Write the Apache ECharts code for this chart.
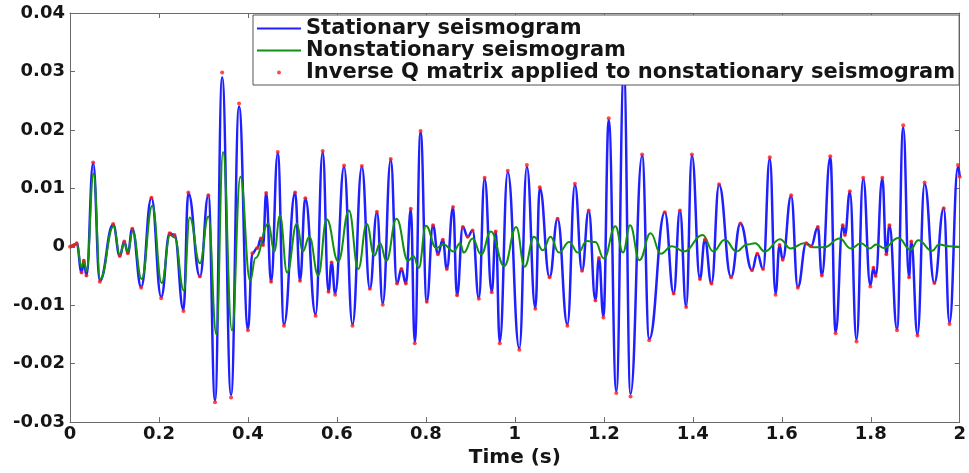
<!DOCTYPE html>
<html><head><meta charset="utf-8">
<script src="https://cdn.jsdelivr.net/npm/echarts@6/dist/echarts.min.js"></script>
<style>html,body{margin:0;padding:0;background:#fff}#c{width:969px;height:473px}</style>
</head><body><div id="c"></div>
<script>
// Stationary seismogram: [time (s), amplitude]
const stationary = [
[0,0],[0.008,0.0002],[0.015,0.0006],[0.026,-0.0044],[0.031,-0.0024],[0.037,-0.0049],
[0.052,0.0143],[0.067,-0.0058],[0.097,0.0038],[0.112,-0.0016],[0.122,0.0009],[0.130,-0.0011],
[0.140,0.0031],[0.160,-0.0069],[0.183,0.0084],[0.205,-0.0086],[0.224,0.0023],[0.235,0.0020],
[0.255,-0.0108],[0.266,0.0092],[0.292,-0.0051],[0.311,0.0088],[0.326,-0.0263],[0.342,0.0290],
[0.362,-0.0254],[0.380,0.0240],[0.400,-0.0141],[0.410,-0.0011],[0.421,-0.0002],[0.429,0.0014],
[0.434,0.0003],[0.441,0.0092],[0.452,-0.0060],[0.467,0.0160],[0.481,-0.0133],[0.506,0.0093],
[0.517,-0.0058],[0.529,0.0083],[0.552,-0.0116],[0.568,0.0162],[0.581,-0.0077],[0.588,-0.0027],
[0.596,-0.0080],[0.616,0.0137],[0.635,-0.0133],[0.656,0.0137],[0.674,-0.0072],[0.690,0.0059],
[0.703,-0.0097],[0.721,0.0149],[0.735,-0.0063],[0.745,-0.0038],[0.755,-0.0063],[0.766,0.0064],
[0.775,-0.0163],[0.788,0.0196],[0.802,-0.0094],[0.816,0.0037],[0.827,-0.0013],[0.838,0.0012],
[0.847,-0.0038],[0.861,0.0067],[0.870,-0.0083],[0.883,0.0034],[0.894,0.0017],[0.905,0.0028],
[0.919,-0.0088],[0.932,0.0117],[0.948,-0.0077],[0.957,0.0026],[0.966,-0.0163],[0.984,0.0128],
[1.010,-0.0174],[1.027,0.0137],[1.046,-0.0105],[1.056,0.0101],[1.078,-0.0052],[1.096,0.0048],
[1.118,-0.0133],[1.135,0.0106],[1.151,-0.0041],[1.166,0.0062],[1.181,-0.0091],[1.189,-0.0019],
[1.199,-0.0119],[1.211,0.0217],[1.228,-0.0247],[1.245,0.0300],[1.260,-0.0252],[1.286,0.0156],
[1.302,-0.0158],[1.337,0.0059],[1.357,-0.0080],[1.371,0.0062],[1.385,-0.0102],[1.398,0.0156],
[1.416,-0.0055],[1.427,0.0012],[1.442,-0.0063],[1.459,0.0106],[1.486,-0.0052],[1.507,0.0040],
[1.533,-0.0040],[1.545,-0.0012],[1.558,-0.0038],[1.573,0.0151],[1.586,-0.0080],[1.595,0.0003],
[1.602,-0.0022],[1.621,0.0087],[1.636,-0.0069],[1.655,0.0006],[1.666,0.0001],[1.681,0.0034],
[1.690,-0.0049],[1.709,0.0153],[1.721,-0.0146],[1.737,0.0037],[1.742,0.0020],[1.753,0.0094],
[1.768,-0.0159],[1.783,0.0117],[1.799,-0.0066],[1.806,-0.0036],[1.811,-0.0050],[1.826,0.0117],
[1.835,-0.0013],[1.842,0.0037],[1.859,-0.0141],[1.873,0.0204],[1.886,-0.0052],[1.891,0.0009],
[1.905,-0.0150],[1.921,0.0108],[1.943,-0.0062],[1.964,0.0066],[1.977,-0.0130],[1.996,0.0137],
[2.000,0.0120]
];
// Nonstationary seismogram
const nonstationary = [
[0,0],[0.015,0.0005],[0.026,-0.0035],[0.031,-0.0022],[0.037,-0.0042],[0.053,0.0125],
[0.068,-0.0055],[0.098,0.0035],[0.112,-0.0014],[0.122,0.0007],[0.130,-0.0009],[0.141,0.0026],
[0.161,-0.0055],[0.185,0.0070],[0.206,-0.0062],[0.225,0.0020],[0.235,0.0016],[0.256,-0.0075],
[0.269,0.0050],[0.292,-0.0028],[0.311,0.0052],[0.329,-0.0150],[0.344,0.0162],[0.364,-0.0143],
[0.383,0.0120],[0.405,-0.0058],[0.417,-0.0019],[0.446,0.0040],[0.459,-0.0008],[0.472,0.0053],
[0.488,-0.0044],[0.510,0.0040],[0.523,-0.0008],[0.538,0.0017],[0.558,-0.0049],[0.577,0.0047],
[0.603,-0.0025],[0.627,0.0062],[0.648,-0.0038],[0.667,0.0039],[0.684,-0.0015],[0.697,0.0006],
[0.711,-0.0024],[0.734,0.0048],[0.760,-0.0024],[0.772,-0.0016],[0.784,-0.0036],[0.800,0.0036],
[0.823,-0.0002],[0.840,0.0004],[0.862,-0.0008],[0.877,0.0006],[0.885,-0.0010],[0.905,0.0014],
[0.924,-0.0013],[0.946,0.0026],[0.976,-0.0033],[1.003,0.0034],[1.022,-0.0034],[1.043,0.0017],
[1.063,-0.0006],[1.080,0.0017],[1.099,-0.0010],[1.122,0.0008],[1.142,-0.0010],[1.162,0.0010],
[1.181,0.0008],[1.200,-0.0020],[1.226,0.0035],[1.243,-0.0010],[1.259,0.0037],[1.280,-0.0023],
[1.305,0.0023],[1.328,-0.0012],[1.353,0.0001],[1.380,-0.0008],[1.422,0.0020],[1.446,-0.0008],
[1.472,0.0012],[1.498,-0.0008],[1.522,0.0004],[1.540,0.0006],[1.562,-0.0008],[1.596,0.0013],
[1.620,-0.0003],[1.650,0.0006],[1.670,-0.0001],[1.695,-0.0001],[1.730,0.0014],[1.755,-0.0003],
[1.778,0.0006],[1.798,-0.0003],[1.812,0.0004],[1.830,-0.0002],[1.862,0.0015],[1.889,-0.0005],
[1.907,0.0011],[1.938,-0.0007],[1.953,0.0004],[1.975,0.0001],[2.000,0.0000]
];
// Inverse Q matrix applied to nonstationary seismogram (dots)
const inverseQ = [
[0,0],[0.008,0.0002],[0.015,0.0006],[0.026,-0.0044],[0.031,-0.0024],[0.037,-0.0049],
[0.052,0.0144],[0.067,-0.0060],[0.097,0.0039],[0.112,-0.0016],[0.122,0.0009],[0.130,-0.0011],
[0.140,0.0031],[0.160,-0.0070],[0.183,0.0084],[0.205,-0.0088],[0.224,0.0023],[0.235,0.0020],
[0.255,-0.0110],[0.266,0.0093],[0.292,-0.0051],[0.311,0.0088],[0.326,-0.0266],[0.342,0.0298],
[0.362,-0.0258],[0.380,0.0245],[0.400,-0.0143],[0.410,-0.0011],[0.421,-0.0002],[0.429,0.0014],
[0.434,0.0003],[0.441,0.0092],[0.452,-0.0060],[0.467,0.0162],[0.481,-0.0135],[0.506,0.0093],
[0.517,-0.0058],[0.529,0.0083],[0.552,-0.0118],[0.568,0.0164],[0.581,-0.0077],[0.588,-0.0027],
[0.596,-0.0082],[0.616,0.0139],[0.635,-0.0135],[0.656,0.0138],[0.674,-0.0072],[0.690,0.0060],
[0.703,-0.0099],[0.721,0.0150],[0.735,-0.0063],[0.745,-0.0038],[0.755,-0.0063],[0.766,0.0065],
[0.775,-0.0165],[0.788,0.0198],[0.802,-0.0094],[0.816,0.0037],[0.827,-0.0013],[0.838,0.0012],
[0.847,-0.0038],[0.861,0.0068],[0.870,-0.0083],[0.883,0.0034],[0.894,0.0017],[0.905,0.0028],
[0.919,-0.0089],[0.932,0.0118],[0.948,-0.0078],[0.957,0.0026],[0.966,-0.0165],[0.984,0.0130],
[1.010,-0.0176],[1.027,0.0140],[1.046,-0.0106],[1.056,0.0102],[1.078,-0.0052],[1.096,0.0048],
[1.118,-0.0135],[1.135,0.0108],[1.151,-0.0041],[1.166,0.0062],[1.181,-0.0092],[1.189,-0.0019],
[1.199,-0.0121],[1.211,0.0220],[1.228,-0.0250],[1.260,-0.0256],[1.286,0.0158],
[1.302,-0.0160],[1.337,0.0059],[1.357,-0.0080],[1.371,0.0062],[1.385,-0.0103],[1.398,0.0158],
[1.416,-0.0055],[1.427,0.0012],[1.442,-0.0063],[1.459,0.0107],[1.486,-0.0052],[1.507,0.0040],
[1.533,-0.0040],[1.545,-0.0012],[1.558,-0.0038],[1.573,0.0153],[1.586,-0.0082],[1.595,0.0003],
[1.602,-0.0022],[1.621,0.0088],[1.636,-0.0070],[1.655,0.0006],[1.666,0.0001],[1.681,0.0034],
[1.690,-0.0049],[1.709,0.0155],[1.721,-0.0148],[1.737,0.0037],[1.742,0.0020],[1.753,0.0095],
[1.768,-0.0162],[1.783,0.0118],[1.799,-0.0068],[1.806,-0.0036],[1.811,-0.0050],[1.826,0.0118],
[1.835,-0.0013],[1.842,0.0037],[1.859,-0.0143],[1.873,0.0208],[1.886,-0.0052],[1.891,0.0009],
[1.905,-0.0152],[1.921,0.0110],[1.943,-0.0062],[1.964,0.0066],[1.977,-0.0132],[1.996,0.0140],
[2.000,0.0120]
];
const seriesNames = ['Stationary seismogram','Nonstationary seismogram','Inverse Q matrix applied to nonstationary seismogram'];
const xAxisRange = {min: 0, max: 2, interval: 0.2};
const yAxisRange = {min: -0.03, max: 0.04, interval: 0.01};
const xAxisTitle = 'Time (s)';

const FONT = 'DejaVu Sans';
const axisColor = '#6a6a6a';
const labelStyle = {fontFamily: FONT, fontWeight: 'bold', fontSize: 18, color: '#151515'};

const chart = echarts.init(document.getElementById('c'), null, {renderer: 'canvas'});
const tickCommon = {inside: true, length: 5, lineStyle: {color: axisColor, width: 1}};
const lineCommon = {show: true, onZero: false, lineStyle: {color: axisColor, width: 1}};
const hiddenSymbol = {color: 'rgba(0,0,0,0)', borderWidth: 0};
chart.setOption({
  animation: false,
  backgroundColor: '#fff',
  grid: {left: 70, right: 5, top: 13, bottom: 41},
  legend: {
    orient: 'vertical', left: 253, top: 15,
    padding: [3, 4, 2, 3], itemGap: 1, itemWidth: 44, itemHeight: 4,
    backgroundColor: '#fff', borderColor: '#555', borderWidth: 1,
    textStyle: {fontFamily: FONT, fontWeight: 'bold', fontSize: 21, lineHeight: 20, color: '#151515'},
    data: [
      {name: seriesNames[0], itemStyle: hiddenSymbol, lineStyle: {color: '#1f1fff', width: 2}},
      {name: seriesNames[1], itemStyle: hiddenSymbol, lineStyle: {color: '#129012', width: 2}},
      {name: seriesNames[2], icon: 'circle'}
    ]
  },
  xAxis: [{
    type: 'value', position: 'bottom', min: xAxisRange.min, max: xAxisRange.max, interval: xAxisRange.interval,
    axisLine: lineCommon, axisTick: tickCommon, splitLine: {show: false},
    axisLabel: Object.assign({margin: 3, formatter: v => String(+v.toFixed(1))}, labelStyle),
    name: xAxisTitle, nameLocation: 'middle', nameGap: 20,
    nameTextStyle: {fontFamily: FONT, fontWeight: 'bold', fontSize: 20, color: '#151515'}
  }, {
    type: 'value', position: 'top', min: xAxisRange.min, max: xAxisRange.max, interval: xAxisRange.interval,
    axisLine: lineCommon, axisTick: tickCommon, splitLine: {show: false}, axisLabel: {show: false}
  }],
  yAxis: [{
    type: 'value', position: 'left', min: yAxisRange.min, max: yAxisRange.max, interval: yAxisRange.interval,
    axisLine: lineCommon, axisTick: tickCommon, splitLine: {show: false},
    axisLabel: Object.assign({margin: 5, formatter: v => String(+v.toFixed(2))}, labelStyle)
  }, {
    type: 'value', position: 'right', min: yAxisRange.min, max: yAxisRange.max, interval: yAxisRange.interval,
    axisLine: lineCommon, axisTick: tickCommon, splitLine: {show: false}, axisLabel: {show: false}
  }],
  series: [{
    name: seriesNames[0], type: 'line', data: stationary, smooth: 0.45, smoothMonotone: 'x',
    symbol: 'none', showSymbol: false, lineStyle: {color: '#1f1fff', width: 2.5}, itemStyle: {color: '#1f1fff'}, z: 2
  }, {
    name: seriesNames[1], type: 'line', data: nonstationary, smooth: 0.45, smoothMonotone: 'x',
    symbol: 'none', showSymbol: false, lineStyle: {color: '#129012', width: 2}, itemStyle: {color: '#129012'}, z: 3
  }, {
    name: seriesNames[2], type: 'scatter', data: inverseQ, symbol: 'circle', symbolSize: 4,
    itemStyle: {color: '#ff1a1a'}, z: 4
  }]
});
</script></body></html>
